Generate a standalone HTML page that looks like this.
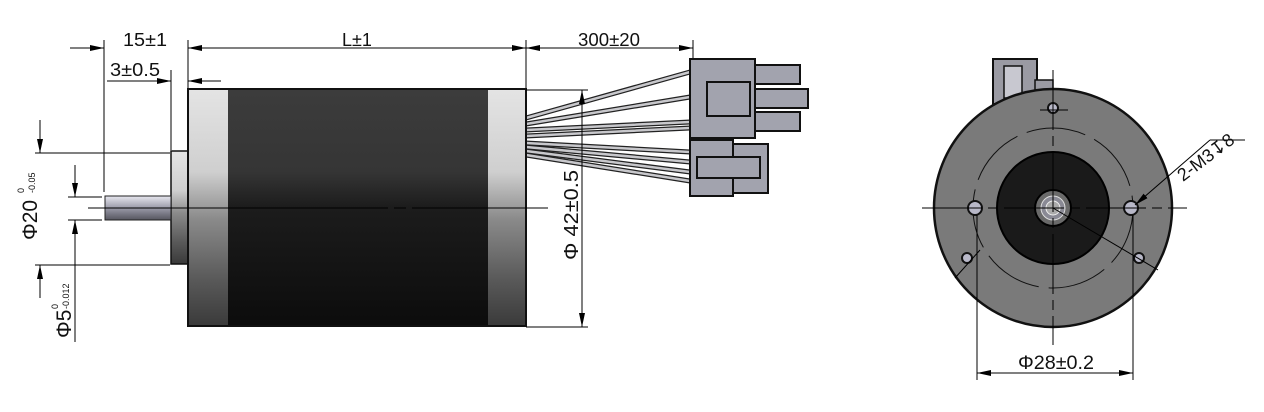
<!DOCTYPE html>
<html><head><meta charset="utf-8"><style>
html,body{margin:0;padding:0;background:#fff}
svg{display:block}
text{font-family:"Liberation Sans",sans-serif;fill:#111}
</style></head><body>
<svg width="1264" height="412" viewBox="0 0 1264 412" xmlns="http://www.w3.org/2000/svg">
<defs>
<linearGradient id="dark" x1="0" y1="0" x2="0" y2="1">
<stop offset="0" stop-color="#3c3c3c"/><stop offset="0.35" stop-color="#353535"/><stop offset="0.5" stop-color="#1c1c1c"/><stop offset="1" stop-color="#0c0c0c"/></linearGradient>
<linearGradient id="light" x1="0" y1="0" x2="0" y2="1">
<stop offset="0" stop-color="#e4e4e4"/><stop offset="0.35" stop-color="#cfcfcf"/><stop offset="0.55" stop-color="#8a8a8a"/><stop offset="0.8" stop-color="#5a5a5a"/><stop offset="1" stop-color="#3a3a3a"/></linearGradient>
<linearGradient id="shaft" x1="0" y1="0" x2="0" y2="1">
<stop offset="0" stop-color="#e8e8f0"/><stop offset="0.5" stop-color="#9a9aa8"/><stop offset="1" stop-color="#55555f"/></linearGradient>
<marker id="a" markerWidth="14" markerHeight="6" refX="14" refY="3" orient="auto-start-reverse" markerUnits="userSpaceOnUse"><path d="M0,0 L14,3 L0,6 Z" fill="#000"/></marker>
</defs>
<g stroke="#000" stroke-width="1" fill="none">
<line x1="104" y1="40" x2="104" y2="192"/>
<line x1="188" y1="40" x2="188" y2="88"/>
<line x1="526" y1="40" x2="526" y2="88"/>
<line x1="693" y1="40" x2="693" y2="62"/>
<line x1="70" y1="48" x2="104" y2="48" marker-end="url(#a)"/>
<line x1="188" y1="48" x2="526" y2="48" marker-start="url(#a)" marker-end="url(#a)"/>
<line x1="526" y1="48" x2="693" y2="48" marker-start="url(#a)" marker-end="url(#a)"/>
<line x1="171" y1="70" x2="171" y2="150"/>
<line x1="107" y1="81" x2="171" y2="81" marker-end="url(#a)"/>
<line x1="221" y1="81" x2="188" y2="81" marker-end="url(#a)"/>
</g>
<text x="145" y="46" font-size="18" text-anchor="middle" textLength="44" lengthAdjust="spacingAndGlyphs">15±1</text>
<text x="357" y="46" font-size="18" text-anchor="middle">L±1</text>
<text x="609" y="46" font-size="18" text-anchor="middle" textLength="62" lengthAdjust="spacingAndGlyphs">300±20</text>
<text x="135" y="76" font-size="18" text-anchor="middle" textLength="50" lengthAdjust="spacingAndGlyphs">3±0.5</text>
<g stroke-linecap="round">
<g stroke="#222" stroke-width="5">
<path d="M526,118 L690,72"/><path d="M526,124 L690,97"/><path d="M526,130 L690,122"/><path d="M526,136 L690,128"/>
<path d="M526,143 L690,152"/><path d="M526,147 L690,162"/><path d="M526,151 L690,172"/><path d="M526,155 L690,181"/>
</g>
<g stroke="#c8c8cc" stroke-width="2.5">
<path d="M526,118 L690,72"/><path d="M526,124 L690,97"/><path d="M526,130 L690,122"/><path d="M526,136 L690,128"/>
<path d="M526,143 L690,152"/><path d="M526,147 L690,162"/><path d="M526,151 L690,172"/><path d="M526,155 L690,181"/>
</g></g>
<g stroke="#111" stroke-width="2" fill="#a2a3ae">
<rect x="755" y="65" width="45" height="19"/>
<rect x="755" y="89" width="53" height="19"/>
<rect x="755" y="112" width="45" height="19"/>
<rect x="690" y="59" width="65" height="79"/>
<rect x="707" y="82" width="43" height="34"/>
<rect x="733" y="144" width="35" height="49"/>
<rect x="690" y="140" width="43" height="56"/>
<rect x="697" y="157" width="63" height="21"/>
</g>
<rect x="171" y="151" width="18" height="113" fill="url(#light)" stroke="#111" stroke-width="1.5"/>
<rect x="105" y="196" width="66" height="24" fill="url(#shaft)" stroke="#222" stroke-width="1"/>
<rect x="188" y="89" width="40" height="237" fill="url(#light)"/>
<rect x="228" y="89" width="260" height="237" fill="url(#dark)"/>
<rect x="488" y="89" width="38" height="237" fill="url(#light)"/>
<rect x="188" y="89" width="338" height="237" fill="none" stroke="#111" stroke-width="2"/>
<g stroke="#000" stroke-width="1" fill="none">
<line x1="88" y1="208" x2="548" y2="208" stroke-dasharray="300,6,12,6"/>
<line x1="35" y1="153" x2="170" y2="153"/>
<line x1="35" y1="265" x2="170" y2="265"/>
<line x1="40" y1="120" x2="40" y2="153" marker-end="url(#a)"/>
<line x1="40" y1="298" x2="40" y2="265" marker-end="url(#a)"/>
<line x1="68" y1="197" x2="102" y2="197"/>
<line x1="68" y1="220" x2="102" y2="220"/>
<line x1="75" y1="165" x2="75" y2="197" marker-end="url(#a)"/>
<line x1="75" y1="342" x2="75" y2="220" marker-end="url(#a)"/>
<line x1="526" y1="90" x2="588" y2="90"/>
<line x1="526" y1="327" x2="588" y2="327"/>
<line x1="582" y1="90" x2="582" y2="327" marker-start="url(#a)" marker-end="url(#a)"/>
</g>
<text transform="translate(37,240) rotate(-90)" font-size="21">Φ20</text>
<text transform="translate(24,193) rotate(-90)" font-size="9">0</text>
<text transform="translate(35,193) rotate(-90)" font-size="9">-0.05</text>
<text transform="translate(71,338) rotate(-90)" font-size="21">Φ5</text>
<text transform="translate(58,309) rotate(-90)" font-size="9">0</text>
<text transform="translate(69,309) rotate(-90)" font-size="9">-0.012</text>
<text transform="translate(578,260) rotate(-90)" font-size="20" textLength="90" lengthAdjust="spacingAndGlyphs">Φ 42±0.5</text>
<rect x="993" y="59" width="44" height="45" fill="#9a9aa3" stroke="#111" stroke-width="2"/>
<rect x="1004" y="66" width="18" height="32" fill="#c8c8d0" stroke="#111" stroke-width="1.5"/>
<rect x="1035" y="80" width="18" height="14" fill="#9a9aa3" stroke="#111" stroke-width="1.5"/>
<circle cx="1053" cy="208" r="119" fill="#7a7a7a" stroke="#111" stroke-width="2.5"/>
<circle cx="1053" cy="208" r="80" fill="none" stroke="#111" stroke-width="1" stroke-dasharray="60,10"/>
<circle cx="1053" cy="208" r="56" fill="#1a1a1a" stroke="#000" stroke-width="2"/>
<circle cx="1053" cy="208" r="18" fill="#6a6a6a" stroke="#000" stroke-width="2"/>
<circle cx="1053" cy="208" r="12" fill="#8a8a95" stroke="#ddd" stroke-width="1"/>
<circle cx="1053" cy="208" r="7" fill="#aaa" stroke="#eee" stroke-width="1"/>
<g fill="#b8b8c8" stroke="#111" stroke-width="2">
<circle cx="975" cy="208" r="7"/><circle cx="1131" cy="208" r="7"/>
<circle cx="1053" cy="108" r="5"/><circle cx="967" cy="258" r="5"/><circle cx="1139" cy="258" r="5"/>
</g>
<g stroke="#000" stroke-width="1" fill="none">
<line x1="922" y1="208" x2="1187" y2="208" stroke-dasharray="60,6,10,6"/>
<line x1="1053" y1="70" x2="1053" y2="345" stroke-dasharray="60,6,10,6"/>
<line x1="1053" y1="208" x2="1158" y2="270"/>
<line x1="955" y1="278" x2="980" y2="250"/>
<line x1="1040" y1="110" x2="1068" y2="110"/>
<line x1="1245" y1="140" x2="1210" y2="140"/>
<line x1="1210" y1="140" x2="1135" y2="205" marker-end="url(#a)"/>
<line x1="977" y1="215" x2="977" y2="380"/>
<line x1="1133" y1="215" x2="1133" y2="380"/>
<line x1="977" y1="373" x2="1133" y2="373" marker-start="url(#a)" marker-end="url(#a)"/>
</g>
<text transform="translate(1183,182) rotate(-37)" font-size="18">2-M3↧8</text>
<text x="1056" y="369" font-size="19" text-anchor="middle" textLength="76" lengthAdjust="spacingAndGlyphs">Φ28±0.2</text>
</svg>
</body></html>
